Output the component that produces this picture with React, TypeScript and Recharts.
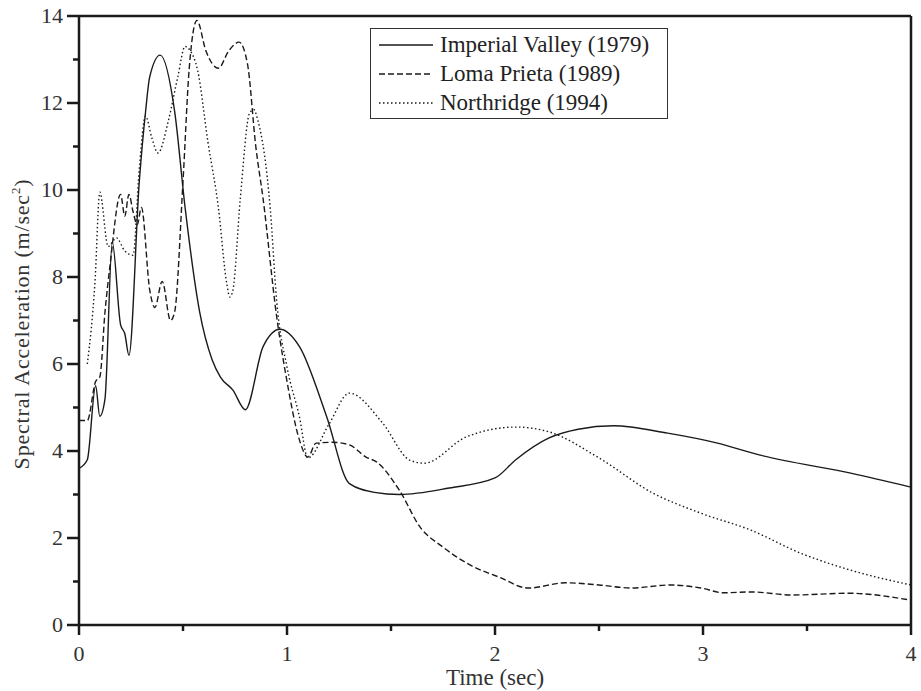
import React from 'react'
import { LineChart, Line, XAxis, YAxis, ReferenceLine } from 'recharts'

const imperialTime = [0, 0.04, 0.08, 0.1, 0.125, 0.16, 0.2, 0.22, 0.24, 0.29, 0.32, 0.34, 0.39, 0.46, 0.51, 0.58, 0.64, 0.68, 0.74, 0.8, 0.885, 0.966, 1.06, 1.19, 1.3, 1.42, 1.54, 1.78, 2.0, 2.1, 2.26, 2.4, 2.57, 2.83, 3.07, 3.27, 3.71, 4.0]
const imperialAccel = [3.6, 3.8, 5.5, 4.8, 5.2, 8.8, 6.9, 6.7, 6.2, 10.2, 11.8, 12.6, 13.1, 11.8, 9.6, 7.2, 6.1, 5.7, 5.4, 4.95, 6.4, 6.8, 6.4, 4.8, 3.25, 3.05, 3.0, 3.15, 3.38, 3.8, 4.3, 4.5, 4.58, 4.41, 4.18, 3.91, 3.49, 3.17]

const lomaTime = [0, 0.04, 0.08, 0.1, 0.125, 0.15, 0.2, 0.22, 0.24, 0.26, 0.28, 0.3, 0.34, 0.365, 0.4, 0.44, 0.46, 0.5, 0.53, 0.567, 0.61, 0.67, 0.72, 0.77, 0.81, 0.85, 0.885, 0.95, 1.0, 1.06, 1.1, 1.14, 1.22, 1.3, 1.38, 1.43, 1.54, 1.64, 1.75, 1.88, 2.02, 2.16, 2.34, 2.5, 2.66, 2.84, 2.99, 3.1, 3.23, 3.43, 3.7, 4.0]
const lomaAccel = [4.7, 4.7, 5.6, 5.7, 7.2, 8.3, 9.9, 9.4, 9.9, 9.5, 9.2, 9.6, 7.7, 7.3, 7.9, 7.0, 7.2, 10.2, 12.8, 13.9, 13.2, 12.8, 13.2, 13.4, 12.9, 11.0, 9.8, 7.1, 5.6, 4.25, 3.86, 4.18, 4.2, 4.14, 3.86, 3.75, 3.1, 2.25, 1.79, 1.38, 1.1, 0.85, 0.97, 0.92, 0.85, 0.92, 0.85, 0.74, 0.76, 0.69, 0.73, 0.57]

const northTime = [0.04, 0.077, 0.1, 0.14, 0.18, 0.22, 0.26, 0.29, 0.32, 0.35, 0.38, 0.43, 0.475, 0.51, 0.535, 0.57, 0.62, 0.67, 0.71, 0.725, 0.74, 0.775, 0.82, 0.84, 0.86, 0.92, 0.95, 1.0, 1.06, 1.1, 1.2, 1.3, 1.46, 1.59, 1.66, 1.86, 2.1, 2.26, 2.5, 2.76, 2.99, 3.23, 3.47, 3.71, 4.0]
const northAccel = [6.0, 7.9, 9.95, 8.7, 8.9, 8.6, 8.5, 10.5, 11.7, 11.2, 10.85, 11.6, 12.6, 13.3, 13.2, 12.76, 11.1, 9.6, 7.86, 7.54, 7.7, 9.77, 11.77, 11.85, 11.6, 9.54, 7.47, 5.93, 4.78, 3.84, 4.6, 5.33, 4.64, 3.79, 3.72, 4.32, 4.55, 4.44, 3.84, 3.03, 2.57, 2.18, 1.65, 1.26, 0.92]

const xTicks = [0, 0.5, 1, 1.5, 2, 2.5, 3, 3.5, 4]
const yTicks = [0, 1, 2, 3, 4, 5, 6, 7, 8, 9, 10, 11, 12, 13, 14]

const seriesNames = ['Imperial Valley (1979)', 'Loma Prieta (1989)', 'Northridge (1994)']
const dashes = ['', '6 3', '1.5 2.5']

const toPoints = (ts: number[], vs: number[]) => ts.map((t, i) => ({ t, v: vs[i] }))

const imperialData = toPoints(imperialTime, imperialAccel)
const lomaData = toPoints(lomaTime, lomaAccel)
const northData = toPoints(northTime, northAccel)

const FONT = 'Liberation Serif, DejaVu Serif, serif'
const INK = '#1a1a1a'

// ticks are drawn by hand: tickSize/tickMargin are 0 so x,y sit on the axis line
const XTick = (props: any) => {
  const { x, y, payload } = props
  const major = Number.isInteger(payload.value)
  return (
    <g>
      <line x1={x} x2={x} y1={y} y2={y + (major ? 10 : 6)} stroke={INK} strokeWidth={2.5} />
      {major && (
        <text x={x} y={y + 36} textAnchor="middle" fontSize={22} style={{ fontFamily: FONT }} fill="#333">
          {payload.value}
        </text>
      )}
    </g>
  )
}

const YTick = (props: any) => {
  const { x, y, payload } = props
  const major = payload.value % 2 === 0
  return (
    <g>
      <line x1={x - (major ? 12 : 6)} x2={x} y1={y} y2={y} stroke={INK} strokeWidth={2.5} />
      {major && (
        <text x={x - 16} y={y + 7} textAnchor="end" fontSize={22} style={{ fontFamily: FONT }} fill="#333">
          {payload.value}
        </text>
      )}
    </g>
  )
}

const YTitle = () => (
  <text transform="translate(29, 324) rotate(-90)" textAnchor="middle" fontSize={22} letterSpacing={0.8} style={{ fontFamily: FONT }} fill="#333">
    Spectral  Acceleration (m/sec<tspan dy={-9} fontSize={13}>2</tspan><tspan dy={9}>)</tspan>
  </text>
)

const XTitle = () => (
  <text x={495} y={685} textAnchor="middle" fontSize={23} style={{ fontFamily: FONT }} fill="#333">
    Time (sec)
  </text>
)

const LegendBox = () => (
  <div
    style={{
      position: 'absolute',
      left: 370,
      top: 28,
      border: '1.5px solid #333',
      padding: '1px 8px',
      background: '#fff',
      fontFamily: FONT,
      fontSize: 23,
      color: '#222',
      lineHeight: '29px',
      width: 280,
      whiteSpace: 'nowrap',
    }}
  >
    {seriesNames.map((name, i) => (
      <div key={name} style={{ display: 'flex', alignItems: 'center' }}>
        <svg width={55} height={10} style={{ marginRight: 6 }}>
          <line x1={0} x2={54} y1={5} y2={5} stroke={INK} strokeWidth={1.3} strokeDasharray={dashes[i]} />
        </svg>
        {name}
      </div>
    ))}
  </div>
)

export default function App() {
  return (
    <div style={{ position: 'absolute', left: 0, top: 0, width: 921, height: 691, background: '#fff' }}>
      <LineChart width={921} height={691} margin={{ top: 16, right: 10, bottom: 0, left: 0 }}>
        <XAxis
          type="number"
          dataKey="t"
          height={66}
          domain={[0, 4]}
          ticks={xTicks}
          interval={0}
          tickSize={0}
          tickMargin={0}
          tickLine={false}
          tick={<XTick />}
          axisLine={{ stroke: INK, strokeWidth: 2.5 }}
          allowDataOverflow
          label={<XTitle />}
        />
        <YAxis
          type="number"
          width={79}
          domain={[0, 14]}
          ticks={yTicks}
          interval={0}
          tickSize={0}
          tickMargin={0}
          tickLine={false}
          tick={<YTick />}
          axisLine={{ stroke: INK, strokeWidth: 2.5 }}
          allowDataOverflow
          label={<YTitle />}
        />
        <ReferenceLine y={14} stroke={INK} strokeWidth={2.5} />
        <ReferenceLine x={4} stroke={INK} strokeWidth={2.5} />
        <Line data={imperialData} dataKey="v" name={seriesNames[0]} type="monotone" stroke={INK} strokeWidth={1.4} dot={false} isAnimationActive={false} />
        <Line data={lomaData} dataKey="v" name={seriesNames[1]} type="monotone" stroke={INK} strokeWidth={1.4} strokeDasharray={dashes[1]} dot={false} isAnimationActive={false} />
        <Line data={northData} dataKey="v" name={seriesNames[2]} type="monotone" stroke={INK} strokeWidth={1.4} strokeDasharray={dashes[2]} dot={false} isAnimationActive={false} />
      </LineChart>
      <LegendBox />
    </div>
  )
}
